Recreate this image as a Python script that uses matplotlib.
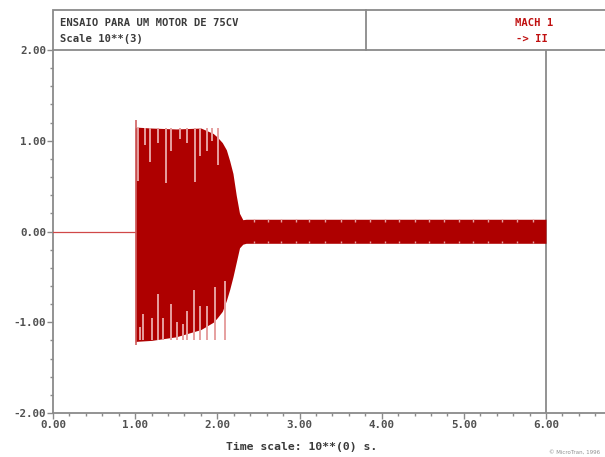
import matplotlib
matplotlib.use("Agg")
import matplotlib.pyplot as plt
from matplotlib.patches import Rectangle
from matplotlib.lines import Line2D
from matplotlib.ticker import MultipleLocator, FormatStrFormatter

# ---------------- data ----------------
flat_t = [0.0, 1.0]
flat_v = [0.0, 0.0]

env_t = [1.00, 1.02, 1.20, 1.50, 1.80, 1.95, 2.00, 2.06, 2.11, 2.15, 2.19, 2.23, 2.27, 2.31, 2.35, 6.00]
env_up = [1.14, 1.15, 1.14, 1.13, 1.14, 1.08, 1.04, 0.98, 0.90, 0.78, 0.64, 0.40, 0.20, 0.13, 0.135, 0.135]
env_lo = [-1.22, -1.21, -1.20, -1.16, -1.08, -1.00, -0.95, -0.88, -0.76, -0.64, -0.50, -0.34, -0.18, -0.14, -0.13, -0.13]

# onset spike
spike_t = [1.005]
spike_up = [1.23]
spike_lo = [-1.25]

# light streaks (dips of individual peaks) in the top part
top_streak_t = [1.04, 1.12, 1.18, 1.28, 1.38, 1.44, 1.55, 1.63, 1.73, 1.79, 1.87, 1.93, 2.01]
top_streak_to = [0.56, 0.95, 0.77, 0.97, 0.53, 0.89, 1.02, 0.98, 0.55, 0.83, 0.89, 1.00, 0.73]
# light streaks in the bottom part
bot_streak_t = [1.06, 1.10, 1.20, 1.28, 1.34, 1.44, 1.51, 1.58, 1.63, 1.71, 1.79, 1.87, 1.97, 2.09]
bot_streak_to = [-1.05, -0.91, -0.95, -0.69, -0.95, -0.80, -1.00, -1.02, -0.88, -0.65, -0.82, -0.82, -0.61, -0.54]
# small notches along the steady band
band_notch_t = [2.45, 2.62, 2.78, 2.96, 3.12, 3.31, 3.50, 3.68, 3.86, 4.04, 4.21,
                4.40, 4.57, 4.76, 4.94, 5.11, 5.29, 5.47, 5.65, 5.84]
band_notch_up = [0.10, 0.11, 0.10, 0.11, 0.10, 0.10, 0.11, 0.10, 0.11, 0.10, 0.10,
                 0.11, 0.10, 0.10, 0.11, 0.10, 0.10, 0.11, 0.10, 0.10]
band_notch_lo = [-0.10, -0.10, -0.11, -0.10, -0.10, -0.11, -0.10, -0.10, -0.11, -0.10, -0.10,
                 -0.11, -0.10, -0.10, -0.11, -0.10, -0.10, -0.11, -0.10, -0.10]

x_ticks = [0, 1, 2, 3, 4, 5, 6]
y_ticks = [-2, -1, 0, 1, 2]
title_text = "ENSAIO PARA UM MOTOR DE 75CV"
scale_text = "Scale 10**(3)"
mach_text = "MACH 1"
arrow_text = "-> II"
xlabel_text = "Time scale: 10**(0) s."
logo_text = "\u00a9 MicroTran, 1996"

# ---------------- styling ----------------
W, H = 605, 457
DPI = 100
RED = "#AE0000"
PINK = "#E6A0A0"
GRAY = "#8A8A8A"
TXT = "#3A3A3A"
FONT = dict(family="DejaVu Sans Mono", weight="bold")

fig = plt.figure(figsize=(W / DPI, H / DPI), dpi=DPI)
fig.patch.set_facecolor("white")

left_px, right_px = 53, 605
top_px, bot_px = 50, 413
ax = fig.add_axes([left_px / W, 1 - bot_px / H, (right_px - left_px) / W, (bot_px - top_px) / H])
px_per_unit = (546 - 53) / 6.0
ax.set_xlim(0, (right_px - left_px) / px_per_unit)
ax.set_ylim(-2, 2)

for s in ["top", "right"]:
    ax.spines[s].set_visible(False)
for s in ["left", "bottom"]:
    ax.spines[s].set_color(GRAY)
    ax.spines[s].set_linewidth(1.3)

ax.set_xticks(x_ticks)
ax.set_yticks(y_ticks)
ax.xaxis.set_major_formatter(FormatStrFormatter("%.2f"))
ax.yaxis.set_major_formatter(FormatStrFormatter("%.2f"))
ax.xaxis.set_minor_locator(MultipleLocator(0.2))
ax.yaxis.set_minor_locator(MultipleLocator(0.2))
ax.tick_params(which="both", direction="out", color=GRAY, width=1.0)
ax.tick_params(which="major", length=4, labelsize=7.8, labelcolor="#505050", pad=1)
ax.tick_params(which="minor", length=2.5)
for lab in ax.get_xticklabels() + ax.get_yticklabels():
    lab.set_fontfamily("DejaVu Sans Mono")
    lab.set_fontweight("bold")

# vertical line at end of trace
ax.axvline(x_ticks[-1], color=GRAY, lw=1.3, zorder=1)

# signal
ax.plot(flat_t, flat_v, color="#D04848", lw=0.9, zorder=3)
ax.fill_between(env_t, env_lo, env_up, color=RED, lw=0, zorder=3)
ax.vlines(spike_t, spike_lo, spike_up, color="#D06060", lw=1.2, zorder=3)
ax.vlines(top_streak_t, top_streak_to, [1.14] * len(top_streak_t), color=PINK, lw=1.4, zorder=4)
ax.vlines(bot_streak_t, [-1.2] * len(bot_streak_t), bot_streak_to, color=PINK, lw=1.4, zorder=4)
ax.vlines(band_notch_t, band_notch_up, [0.135] * len(band_notch_t), color=PINK, lw=1.0, zorder=4)
ax.vlines(band_notch_t, [-0.13] * len(band_notch_t), band_notch_lo, color=PINK, lw=1.0, zorder=4)

# header box
hdr_top, hdr_bot = 10, 50
fig.patches.append(Rectangle((left_px / W, 1 - hdr_bot / H), (right_px + 5 - left_px) / W,
                             (hdr_bot - hdr_top) / H, transform=fig.transFigure,
                             fill=False, edgecolor=GRAY, lw=1.3))
fig.lines.append(Line2D([366 / W, 366 / W], [1 - hdr_bot / H, 1 - hdr_top / H],
                        transform=fig.transFigure, color=GRAY, lw=1.3))

fig.text(60 / W, 1 - 23 / H, title_text, fontsize=7.6, color=TXT, va="center", ha="left", **FONT)
fig.text(60 / W, 1 - 39 / H, scale_text, fontsize=7.6, color=TXT, va="center", ha="left", **FONT)
fig.text(553 / W, 1 - 23 / H, mach_text, fontsize=7.6, color="#C01010", va="center", ha="right", **FONT)
fig.text(548 / W, 1 - 39 / H, arrow_text, fontsize=7.6, color="#C01010", va="center", ha="right", **FONT)

fig.text(302 / W, 1 - 447 / H, xlabel_text, fontsize=8.2, color=TXT, va="center", ha="center", **FONT)
fig.text(600 / W, 1 - 452 / H, logo_text, fontsize=4, color="#909090", va="center", ha="right")

fig.savefig("out.png", dpi=DPI)
